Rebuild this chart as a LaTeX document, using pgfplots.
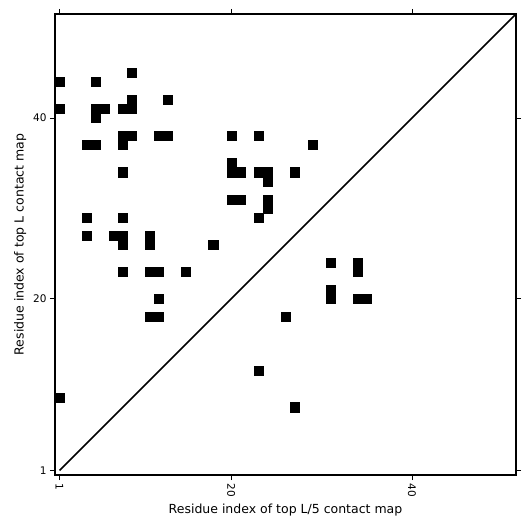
\documentclass[border=0pt]{standalone}
\usepackage{fontspec}
\setmainfont{DejaVu Sans}
\usepackage{pgfplots}
\pgfplotsset{compat=1.18}
\begin{document}
\begin{tikzpicture}
\begin{axis}[
  x=9.04pt, y=9.04pt,
  xmin=0.5, xmax=51.5, ymin=0.5, ymax=51.5,
  xtick={1,20,40}, ytick={1,20,40},
  tick align=outside,
  major tick length=5pt,
  tick style={line width=0.8pt, black},
  axis line style={line width=1.6pt},
  /pgf/number format/assume math mode=true,
  ticklabel style={font=\fontsize{10.5}{12}\selectfont},
  xticklabel style={rotate=-90, anchor=west},
  xlabel={Residue index of top L/5 contact map},
  ylabel={Residue index of top L contact map},
  label style={font=\fontsize{12.5}{14}\selectfont},
]
\addplot[only marks, mark=square*, mark size=4.52pt, mark options={draw=none, fill=black}] coordinates {
(1,44) (1,41) (1,9)
(5,44) (5,41) (6,41) (5,40)
(9,45) (9,42) (8,41) (9,41)
(13,42)
(8,38) (9,38) (8,37)
(12,38) (13,38)
(4,37) (5,37)
(8,34)
(4,29) (8,29)
(4,27) (7,27) (8,27) (8,26)
(11,27) (11,26)
(8,23) (11,23) (12,23) (15,23)
(12,20)
(11,18) (12,18)
(18,26)
(20,38) (23,38) (29,37)
(20,35) (20,34) (21,34) (23,34) (24,34) (24,33) (27,34)
(20,31) (21,31) (24,31) (24,30) (23,29)
(31,24) (34,24) (34,23) (31,21) (31,20) (34,20) (35,20)
(26,18) (23,12) (27,8)
};
\addplot[black, line width=1.5pt] coordinates {(1,1) (51.5,51.5)};
\end{axis}
\path (current axis.south west) ++(-55pt,-56pt) coordinate (bbA);
\path (current axis.north east) ++(15pt,14pt) coordinate (bbB);
\pgfresetboundingbox
\path (bbA) rectangle (bbB);
\end{tikzpicture}
\end{document}
